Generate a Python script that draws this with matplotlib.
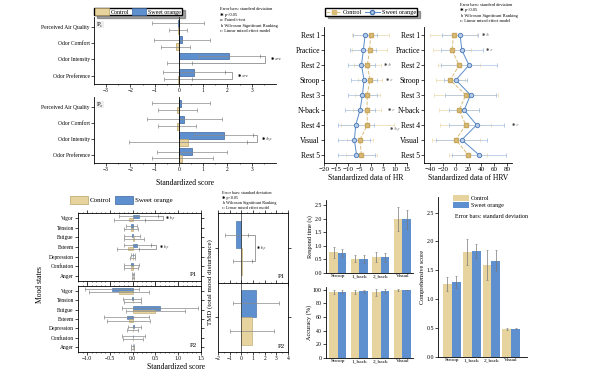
import matplotlib
matplotlib.use("Agg")
import matplotlib.pyplot as plt
from matplotlib.patches import Patch
from matplotlib.lines import Line2D
import numpy as np

plt.rcParams['font.family'] = ['Liberation Serif', 'DejaVu Sans']
plt.rcParams['axes.linewidth'] = 0.6

CTRL = '#E6D39E'
CTRL_E = '#B9A267'
SO = '#5E8FCF'
SO_E = '#3C659E'
ERR = '#8a8a8a'

# odor ratings (panel A)
odor_cats = ['Perceived Air Quality', 'Odor Comfort', 'Odor Intensity', 'Odor Preference']
odor_p1_ctrl = [-0.05, -0.13, 0.02, -0.03]
odor_p1_ctrl_sd = [0.37, 0.6, 0.5, 0.58]
odor_p1_so = [-0.05, 0.12, 2.08, 0.62]
odor_p1_so_sd = [1.08, 1.14, 1.26, 1.26]
odor_p2_ctrl = [-0.07, -0.07, 0.38, 0.14]
odor_p2_ctrl_sd = [0.8, 0.78, 2.44, 1.25]
odor_p2_so = [0.1, 0.22, 1.84, 0.53]
odor_p2_so_sd = [1.2, 1.55, 1.22, 1.45]

# HR / HRV (panel B)
hr_cats = ['Rest 1', 'Practice', 'Rest 2', 'Stroop', 'Rest 3', 'N-back', 'Rest 4', 'Visual', 'Rest 5']
hr_so = [-2.7, -3.4, -4.2, -3.1, -3.8, -4.8, -6.6, -7.2, -6.3]
hr_so_sd = [5, 5.5, 5.5, 5.5, 6, 6.5, 7.7, 6.8, 7.6]
hr_ctrl = [-0.3, -0.8, -1.7, -0.6, -1.8, -1.8, -1.7, -4.9, -4.2]
hr_ctrl_sd = [7.8, 7.4, 5.6, 5, 5.3, 6, 11.1, 5.6, 6.6]
hrv_so = [6.7, 9.3, 20.6, 0, 23, 12.9, 32.5, 9.3, 36]
hrv_so_sd = [28, 33, 44, 18, 40, 23, 43, 40, 42]
hrv_ctrl = [-3.6, -6.2, 5.2, -8.8, 15.5, 5.2, 15.5, 0, 19]
hrv_ctrl_sd = [37, 30, 33, 23, 50, 31, 40, 38, 30]

# mood states (panel C)
mood_cats = ['Vigor', 'Tension', 'Fatigue', 'Esteem', 'Depression', 'Confusion', 'Anger']
mood_p1_so = [0.13, -0.03, -0.02, 0.1, 0.01, -0.03, 0.0]
mood_p1_so_sd = [0.42, 0.12, 0.18, 0.3, 0.05, 0.17, 0.02]
mood_p1_ctrl = [-0.07, -0.03, 0.02, -0.1, 0.0, -0.03, 0.0]
mood_p1_ctrl_sd = [0.33, 0.15, 0.22, 0.25, 0.05, 0.15, 0.02]
mood_p2_so = [-0.45, -0.02, 0.6, -0.13, 0.04, 0.01, 0.0]
mood_p2_so_sd = [0.6, 0.2, 0.84, 0.49, 0.14, 0.25, 0.04]
mood_p2_ctrl = [-0.3, 0.0, 0.5, -0.09, 0.0, 0.0, 0.0]
mood_p2_ctrl_sd = [0.65, 0.18, 0.65, 0.47, 0.12, 0.22, 0.04]
tmd_so = [-0.44, 1.26]
tmd_so_sd = [0.97, 2.0]
tmd_ctrl = [0.08, 0.9]
tmd_ctrl_sd = [0.8, 1.9]

# task performance (panel D)
task_cats = ['Stroop', '1_back', '2_back', 'Visual']
rt_ctrl = [0.76, 0.53, 0.6, 2.0]
rt_ctrl_sd = [0.2, 0.13, 0.18, 0.43]
rt_so = [0.74, 0.52, 0.58, 1.98]
rt_so_sd = [0.15, 0.14, 0.16, 0.36]
acc_ctrl = [97, 97, 96.5, 99.5]
acc_ctrl_sd = [3, 3, 5, 1]
acc_so = [97, 97.5, 97.5, 99.5]
acc_so_sd = [2, 2, 3, 0.6]
comp_ctrl = [1.26, 1.82, 1.59, 0.49]
comp_ctrl_sd = [0.12, 0.22, 0.26, 0.02]
comp_so = [1.3, 1.84, 1.67, 0.49]
comp_so_sd = [0.11, 0.12, 0.18, 0.01]

W, H = 600, 381
fig = plt.figure(figsize=(6, 3.81), dpi=100)


def px_axes(l, t, r, b):
    return fig.add_axes([l / W, 1 - b / H, (r - l) / W, (b - t) / H])


def ticks(ax, size=4):
    ax.tick_params(labelsize=size, length=2, width=0.5, pad=1)


def bracket(ax, x1, x2, y1, y2, xb, label, fs=3):
    ax.plot([x1, xb, xb, x2], [y1, y1, y2, y2], color='#555555', lw=0.4)
    ax.text(xb + 0.03 * (ax.get_xlim()[1] - ax.get_xlim()[0]), (y1 + y2) / 2,
            '✱ ' + label, fontsize=fs, va='center', style='italic')


def note(x, y, lines, fs=3.2, dy=5.6):
    for i, s in enumerate(lines):
        fig.text(x / W, 1 - (y + i * dy) / H, s, fontsize=fs, va='top')


ekw = dict(ecolor=ERR, elinewidth=0.5, capsize=1.5, capthick=0.5)

# ---------- panel A ----------
odor_sets = [(odor_p1_so, odor_p1_so_sd, odor_p1_ctrl, odor_p1_ctrl_sd, 'P₁'),
             (odor_p2_so, odor_p2_so_sd, odor_p2_ctrl, odor_p2_ctrl_sd, 'P₂')]
y = np.arange(len(odor_cats))
for k, (so, so_sd, ct, ct_sd, lab) in enumerate(odor_sets):
    ax = px_axes(94, 17 + k * 80, 276, 84 + k * 79)
    ax.barh(y - 0.21, so, 0.42, xerr=so_sd, color=SO, edgecolor=SO_E, lw=0.5, error_kw=ekw)
    ax.barh(y + 0.21, ct, 0.42, xerr=ct_sd, color=CTRL, edgecolor=CTRL_E, lw=0.5, error_kw=ekw)
    ax.axvline(0, color='k', lw=0.6)
    ax.set_xlim(-3.5, 4)
    ax.set_ylim(3.5, -0.6)
    ax.set_yticks(y)
    ax.set_yticklabels(odor_cats)
    ax.set_xticks([-3, -2, -1, 0, 1, 2, 3])
    ax.set_xticks(np.arange(-3.5, 4, 0.5), minor=True)
    ax.tick_params(which='minor', length=1, width=0.4)
    ticks(ax)
    ax.spines['top'].set_visible(False)
    ax.spines['right'].set_visible(False)
    ax.text(0.015, 0.93, lab, transform=ax.transAxes, fontsize=5, va='top',
            bbox=dict(fc='#eeeeee', ec='none', pad=0.8))
    if k == 0:
        bracket(ax, so[2] + so_sd[2], ct[2] + ct_sd[2], 2 - 0.21, 2 + 0.21, 3.55, 'a-c')
        bracket(ax, so[3] + so_sd[3], ct[3] + ct_sd[3], 3 - 0.21, 3 + 0.21, 2.2, 'a-c')
    else:
        bracket(ax, so[2] + so_sd[2], ct[2] + ct_sd[2], 2 - 0.21, 2 + 0.21, 3.2, 'b,c')
        ax.set_xlabel('Standardized score', fontsize=5.5, labelpad=5)

fig.legend(handles=[Patch(fc=CTRL, ec=CTRL_E, lw=0.5, label='Control'),
                    Patch(fc=SO, ec=SO_E, lw=0.5, label='Sweet orange')],
           loc='center', bbox_to_anchor=(138 / W, 1 - 11.5 / H), ncol=2, fontsize=4.3,
           frameon=True, fancybox=False, shadow=True, edgecolor='k',
           handlelength=2.4, handleheight=1.2, columnspacing=0.4, handletextpad=0.3,
           borderpad=0.15, borderaxespad=0)
note(220, 7, ['Error bars: standard deviation', '✱ p<0.05', 'a: Paired t-test',
              'b: Wilcoxon Significant Ranking', 'c: Linear mixed effect model'])

# ---------- panel B ----------
yb = np.arange(len(hr_cats))
b_sets = [(hr_so, hr_so_sd, hr_ctrl, hr_ctrl_sd, (324, 407), (-20, 15),
           [-20, -15, -10, -5, 0, 5, 10, 15], 'Standardized data of HR',
           [(2, 5.2, 'b'), (3, 6.0, 'c'), (5, 6.8, 'c'), (6.3, 7.7, 'b,c')]),
          (hrv_so, hrv_so_sd, hrv_ctrl, hrv_ctrl_sd, (424, 512), (-50, 88),
           [-40, -20, 0, 20, 40, 60, 80], 'Standardized data of HRV',
           [(0, 41, 'b'), (1, 47, 'c'), (6, 88, 'c')])]
for so, so_sd, ct, ct_sd, (l, r), xl, xt, xlab, sigs in b_sets:
    ax = px_axes(l, 27, r, 163)
    ax.errorbar(ct, yb, xerr=ct_sd, fmt='s--', color='#D9BC78', mfc='#D9BC78', mec='#C9A860',
                ms=3, lw=0.7, ecolor='#EBD9AC', elinewidth=0.5, capsize=1.5, capthick=0.5)
    ax.errorbar(so, yb, xerr=so_sd, fmt='o-', color='#5B8CC8', mfc='#B5CBE8', mec='#4A78B5',
                ms=3.2, mew=0.6, lw=0.7, ecolor='#A9C2E4', elinewidth=0.5, capsize=1.5, capthick=0.5)
    ax.set_ylim(8.55, -0.55)
    ax.set_xlim(*xl)
    ax.set_xticks(xt)
    ax.set_yticks(yb)
    ax.set_yticklabels(hr_cats)
    ticks(ax, 5)
    ax.tick_params(axis='y', labelsize=5.5)
    ax.spines['top'].set_visible(False)
    ax.spines['right'].set_visible(False)
    ax.set_xlabel(xlab, fontsize=5.5, labelpad=1)
    for yy, xx, s in sigs:
        ax.text(xx, yy, '✱ ' + s, fontsize=3, va='center', color='#444444', style='italic')

fig.legend(handles=[Line2D([], [], color='#D9BC78', ls='--', marker='s', ms=3, lw=0.7, label='Control'),
                    Line2D([], [], color='#5B8CC8', marker='o', mfc='#B5CBE8', mec='#4A78B5', ms=3,
                           lw=0.7, label='Sweet orange')],
           loc='center', bbox_to_anchor=(371 / W, 1 - 12 / H), ncol=2, fontsize=4.5,
           frameon=True, fancybox=False, shadow=True, edgecolor='k',
           handlelength=2.4, columnspacing=0.4, handletextpad=0.3,
           borderpad=0.15, borderaxespad=0)
note(460, 3, ['Error bars: standard deviation', '✱ p<0.05',
              'b: Wilcoxon Significant Ranking', 'c: Linear mixed effect model'], dy=5.4)

# ---------- panel C ----------
ym = np.arange(len(mood_cats))
mood_sets = [(mood_p1_so, mood_p1_so_sd, mood_p1_ctrl, mood_p1_ctrl_sd, 'P1', (213, 281)),
             (mood_p2_so, mood_p2_so_sd, mood_p2_ctrl, mood_p2_ctrl_sd, 'P2', (286, 352))]
for k, (so, so_sd, ct, ct_sd, lab, (t, b)) in enumerate(mood_sets):
    ax = px_axes(78, t, 201, b)
    ax.barh(ym - 0.17, so, 0.34, xerr=so_sd, color=SO, edgecolor=SO_E, lw=0.4, error_kw=ekw)
    ax.barh(ym + 0.17, ct, 0.34, xerr=ct_sd, color=CTRL, edgecolor=CTRL_E, lw=0.4, error_kw=ekw)
    ax.set_xlim(-1.2, 1.5)
    ax.set_ylim(6.5, -0.5)
    ax.set_yticks(ym)
    ax.set_yticklabels(mood_cats)
    ax.set_xticks([-1.0, -0.5, 0.0, 0.5, 1.0, 1.5])
    ax.set_xticks(np.arange(-1.2, 1.51, 0.1), minor=True)
    ax.tick_params(which='minor', length=1, width=0.4)
    ax.tick_params(top=True, right=True, which='both')
    ticks(ax)
    ax.text(0.97, 0.06, lab, transform=ax.transAxes, fontsize=5, ha='right', va='bottom')
    if k == 0:
        ax.tick_params(labelbottom=False)
        bracket(ax, so[0] + so_sd[0], ct[0] + ct_sd[0], -0.17, 0.17, 0.66, 'b,c', fs=2.6)
        bracket(ax, so[3] + so_sd[3], ct[3] + ct_sd[3], 3 - 0.17, 3 + 0.17, 0.52, 'b,c', fs=2.6)
    else:
        ax.set_xlabel('Standardized score', fontsize=5.5, labelpad=1, x=0.8)
fig.text(40 / W, 1 - 285 / H, 'Mood states', rotation=90, fontsize=5.5, ha='center', va='center')

tmd_lims = [(-1.3, 1.3), (-1.27, 1.24)]
for k, (t, b) in enumerate([(213, 283), (283, 352)]):
    ax = px_axes(218, t, 288, b)
    ax.barh([0.5], [tmd_so[k]], 1.0, xerr=[tmd_so_sd[k]], color=SO, edgecolor=SO_E, lw=0.4, error_kw=ekw)
    ax.barh([-0.5], [tmd_ctrl[k]], 1.0, xerr=[tmd_ctrl_sd[k]], color=CTRL, edgecolor=CTRL_E, lw=0.4,
            error_kw=ekw)
    ax.axvline(0, color='#333333', lw=0.5)
    ax.set_xlim(-2, 4)
    ax.set_ylim(*tmd_lims[k])
    ax.set_yticks([0])
    ax.set_yticklabels([])
    ax.set_xticks(range(-2, 5))
    ax.set_xticks(np.arange(-2, 4.01, 0.5), minor=True)
    ax.tick_params(which='minor', length=1, width=0.4)
    ax.tick_params(top=True, right=True, which='both')
    ticks(ax)
    ax.text(0.96, 0.05, 'P%d' % (k + 1), transform=ax.transAxes, fontsize=5, ha='right', va='bottom')
    if k == 0:
        ax.tick_params(labelbottom=False)
        bracket(ax, tmd_so[0] + tmd_so_sd[0], tmd_ctrl[0] + tmd_ctrl_sd[0], 0.5, -0.5, 1.17, 'b,c', fs=2.6)
fig.text(210 / W, 1 - 282 / H, 'TMD (total mood disturbance)', rotation=90, fontsize=5,
         ha='center', va='center')

fig.legend(handles=[Patch(fc=CTRL, ec=CTRL_E, lw=0.5, label='Control'),
                    Patch(fc=SO, ec=SO_E, lw=0.5, label='Sweet orange')],
           loc='center', bbox_to_anchor=(121 / W, 1 - 200 / H), ncol=2, fontsize=5,
           frameon=False, handlelength=2.6, handleheight=1.2, columnspacing=0.5,
           handletextpad=0.3, borderpad=0, borderaxespad=0)
note(222, 191, ['Error bars: standard deviation', '✱ p<0.05',
                'b: Wilcoxon Significant Ranking', 'c: Linear mixed effect model'], dy=5.0, fs=3)

# ---------- panel D ----------
xd = np.arange(len(task_cats))
d_sets = [((326, 200, 413, 273), rt_ctrl, rt_ctrl_sd, rt_so, rt_so_sd, (0, 2.7),
           [0.0, 0.5, 1.0, 1.5, 2.0, 2.5], 'Respond time (s)', 0.4, (-0.55, 3.5), '%.1f'),
          ((326, 287, 413, 358), acc_ctrl, acc_ctrl_sd, acc_so, acc_so_sd, (0, 104),
           [0, 20, 40, 60, 80, 100], 'Accuracy (%)', 0.4, (-0.55, 3.5), '%d'),
          ((438, 197, 527, 357), comp_ctrl, comp_ctrl_sd, comp_so, comp_so_sd, (0, 2.77),
           [0.0, 0.5, 1.0, 1.5, 2.0, 2.5], 'Comprehensive score', 0.45, (-0.7, 3.8), '%.1f')]
dk = dict(ecolor='#777777', elinewidth=0.5, capsize=0.8, capthick=0.4)
for box, ct, ct_sd, so, so_sd, yl, yt, ylab, bw, xl, fmt in d_sets:
    ax = px_axes(*box)
    ax.bar(xd - bw / 2, ct, bw, yerr=ct_sd, color=CTRL, error_kw=dk)
    ax.bar(xd + bw / 2, so, bw, yerr=so_sd, color=SO, error_kw=dk)
    ax.set_ylim(*yl)
    ax.set_xlim(*xl)
    ax.set_yticks(yt)
    ax.set_yticklabels([fmt % v for v in yt])
    ax.set_xticks(xd)
    ax.set_xticklabels(task_cats)
    ticks(ax, 4.2)
    ax.tick_params(axis='x', length=0, labelsize=3.9)
    ax.spines['top'].set_visible(False)
    ax.spines['right'].set_visible(False)
    ax.set_ylabel(ylab, fontsize=4.5, labelpad=1)

fig.legend(handles=[Patch(fc=CTRL, label='Control'), Patch(fc=SO, label='Sweet orange')],
           loc='upper left', bbox_to_anchor=(453 / W, 1 - 195 / H), fontsize=4.3,
           frameon=False, handlelength=2.6, handleheight=1.1, labelspacing=0.15,
           handletextpad=0.4, borderpad=0, borderaxespad=0)
fig.text(455 / W, 1 - 216 / H, 'Error bars: standard deviation', fontsize=4.3, va='center')

fig.savefig('out.png', dpi=100)
